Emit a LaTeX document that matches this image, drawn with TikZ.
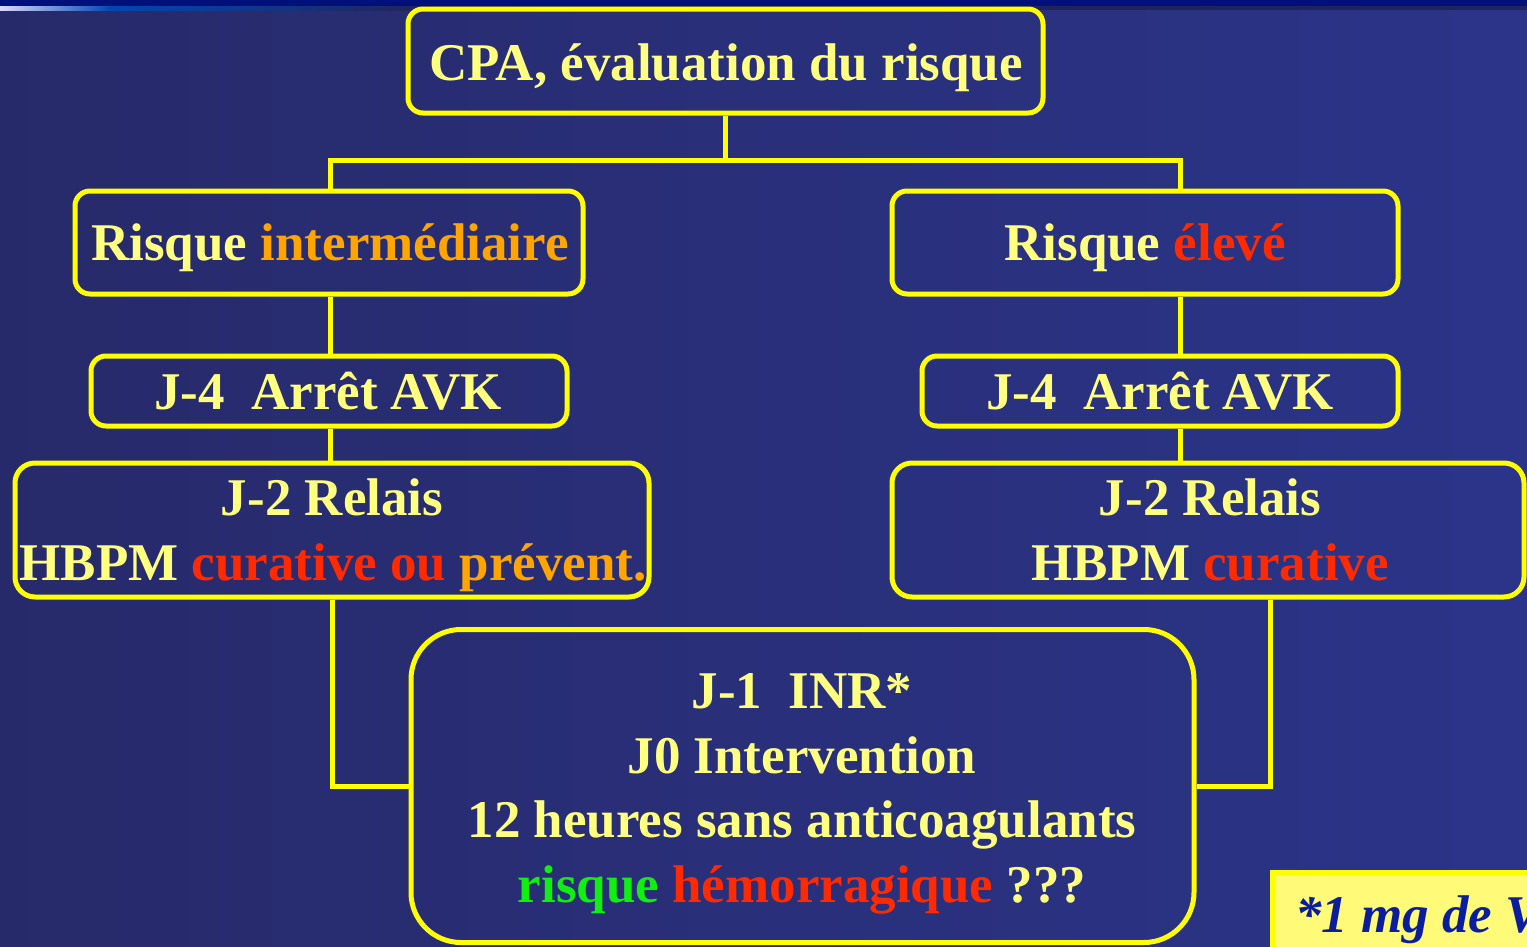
\documentclass[tikz,border=0pt]{standalone}
\usepackage{fontspec}
\setmainfont{Liberation Serif}
\definecolor{bgL}{HTML}{272A6A}
\definecolor{bgR}{HTML}{2B3489}
\definecolor{topband}{HTML}{00107A}
\definecolor{boxyellow}{HTML}{FFFF00}
\definecolor{txtyellow}{HTML}{FFFF80}
\definecolor{txtorange}{HTML}{FFA500}
\definecolor{txtred}{HTML}{FF2A00}
\definecolor{txtgreen}{HTML}{11EE11}
\definecolor{notefill}{HTML}{FFFA78}
\definecolor{notetext}{HTML}{0A1E9E}
\tikzset{
  box/.style={draw=boxyellow, line width=5pt, rounded corners=15pt, inner sep=0pt},
  conn/.style={draw=boxyellow, line width=5pt},
  lbl/.style={anchor=base, inner sep=0pt, text=txtyellow, font=\fontsize{53}{64}\selectfont\bfseries},
}
\begin{document}
\begin{tikzpicture}[x=1pt,y=-1pt]
\useasboundingbox (0,0) rectangle (1527,946);
\clip (0,0) rectangle (1527,946);
% background
\shade[left color=bgL, right color=bgR] (0,0) rectangle (1527,946);
\fill[topband] (0,0) rectangle (1527,6);
\fill[bgL!85!black] (0,6) rectangle (1527,10);
\shade[left color=white!85!blue, right color=blue!60!cyan!70!black] (0,6) rectangle (110,10);
\shade[left color=blue!60!cyan!70!black, right color=bgL!85!black] (110,6) rectangle (420,10);

% boxes
\node[box, minimum width=635pt, minimum height=104pt] (top) at (725.5,61) {};
\node[box, minimum width=508pt, minimum height=103pt] (leftrisk) at (329,242.5) {};
\node[box, minimum width=506pt, minimum height=103pt] (rightrisk) at (1145,242.5) {};
\node[box, minimum width=476pt, minimum height=70pt] (leftJ4) at (329,391) {};
\node[box, minimum width=476pt, minimum height=70pt] (rightJ4) at (1160,391) {};
\node[box, rounded corners=20pt, minimum width=634pt, minimum height=134pt] (leftJ2) at (332,530) {};
\node[box, rounded corners=20pt, minimum width=632pt, minimum height=134pt] (rightJ2) at (1208,530) {};
\node[box, rounded corners=50pt, minimum width=783pt, minimum height=313pt] (bottom) at (802.5,786) {};

% texts
\node[lbl] (tTop) at (726,80) {CPA, évaluation du risque};
\node[lbl] (tLR) at (330,260) {Risque \textcolor{txtorange}{intermédiaire}};
\node[lbl] (tRR) at (1145,260) {Risque \textcolor{txtred}{élevé}};
\node[lbl] (tLJ4) at (328,409) {J-4\ \ Arrêt AVK};
\node[lbl] (tRJ4) at (1160,409) {J-4\ \ Arrêt AVK};
\node[lbl] (tLJ2a) at (332,515) {J-2 Relais};
\node[lbl] (tLJ2b) at (333,580) {HBPM \textcolor{txtred}{curative ou} \textcolor{txtorange}{prévent.}};
\node[lbl] (tRJ2a) at (1210,515) {J-2 Relais};
\node[lbl] (tRJ2b) at (1210,580) {HBPM \textcolor{txtred}{curative}};
\node[lbl] (tB1) at (802,708) {J-1\ \ INR*};
\node[lbl] (tB2) at (802,773) {J0 Intervention};
\node[lbl] (tB3) at (802,837) {12 heures sans anticoagulants};
\node[lbl] (tB4) at (802,902) {\textcolor{txtgreen}{risque} \textcolor{txtred}{hémorragique} ???};

% connectors
\coordinate (jl) at (330,160);
\coordinate (jr) at (1180,160);
\coordinate (rb) at (1270,598);
\draw[conn] (top.south) -- (top.south |- jl);
\draw[conn] (jl |- leftrisk.north) -- (jl) -- (jr) -- (jr |- rightrisk.north);
\draw[conn] (leftrisk.south -| jl) -- (leftJ4.north -| jl);
\draw[conn] (leftJ4.south -| jl) -- (leftJ2.north -| jl);
\draw[conn] (rightrisk.south -| jr) -- (rightJ4.north -| jr);
\draw[conn] (rightJ4.south -| jr) -- (rightJ2.north -| jr);
\draw[conn] (leftJ2.south) |- (bottom.west);
\draw[conn] (rightJ2.south -| rb) |- (bottom.east);

% footnote box
\node[draw=boxyellow, fill=notefill, line width=5pt, inner sep=0pt, minimum width=300pt, minimum height=100pt, anchor=north west] (note) at (1270,870) {};
\node[anchor=base west, inner sep=0pt, text=notetext, font=\fontsize{53}{64}\selectfont\bfseries\itshape] (noteText) at (1295,932) {*1 mg de V};
\end{tikzpicture}
\end{document}
